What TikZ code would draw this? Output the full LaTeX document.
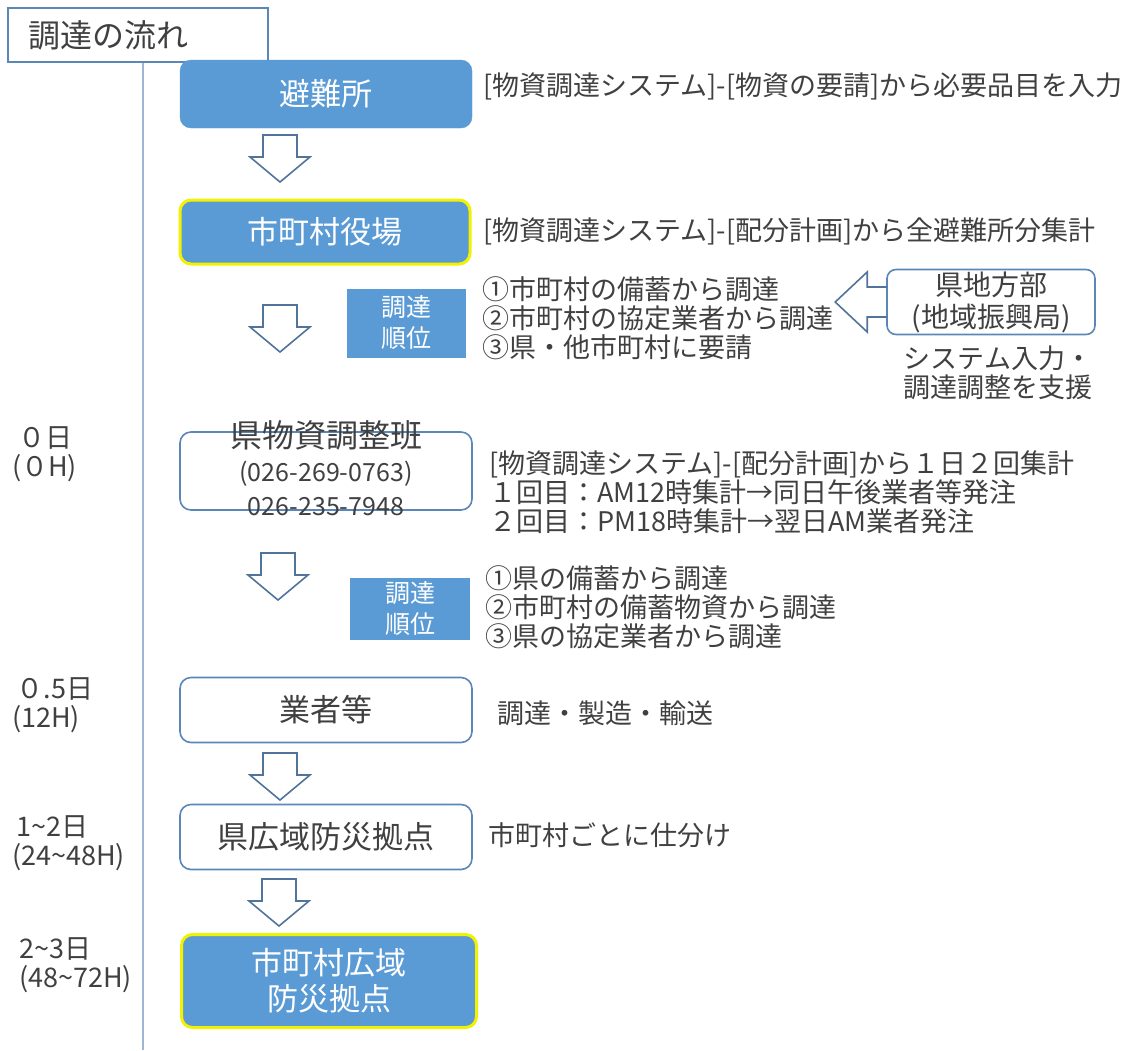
\documentclass[tikz,border=0pt]{standalone}
\usepackage{fontspec}
\setmainfont{Noto Sans CJK JP}
\usetikzlibrary{calc,positioning}
\definecolor{boxblue}{HTML}{5B9BD5}
\definecolor{edgeblue}{HTML}{5A86B8}
\definecolor{arrowgray}{HTML}{52739A}
\definecolor{inkgray}{HTML}{404040}
\definecolor{hiyellow}{HTML}{F2F200}
\definecolor{railblue}{HTML}{9DB6D3}
\tikzset{
  flowbox/.style={rounded corners=11pt, minimum width=292pt, minimum height=66pt,
    inner sep=0pt, align=center, font=\fontsize{31}{36}\selectfont},
  bluebox/.style={flowbox, fill=boxblue, draw=boxblue, text=white},
  keybox/.style={bluebox, draw=hiyellow, line width=3pt},
  whitebox/.style={flowbox, fill=white, draw=edgeblue, line width=1.6pt, text=inkgray},
  rankbox/.style={fill=boxblue, text=white, minimum width=119pt, minimum height=66pt,
    inner sep=0pt, align=center, font=\fontsize{25}{31}\selectfont},
  sidetext/.style={anchor=west, align=left, text=inkgray, inner sep=0pt,
    font=\fontsize{27}{29}\selectfont},
  timetext/.style={anchor=west, align=left, text=inkgray, inner sep=0pt,
    font=\fontsize{27}{29}\selectfont},
  blockline/.style={draw=arrowgray, line width=1.6pt, line join=miter},
  downarrow/.pic={\draw[blockline] (-17,0) -- (17,0) -- (17,22) -- (30,22)
    -- (0,47) -- (-30,22) -- (-17,22) -- cycle;}
}
\begin{document}
\begin{tikzpicture}[x=1pt,y=-1pt]
  \useasboundingbox (0,0) rectangle (1132,1050);

  % title and time rail
  \node[draw=edgeblue, line width=1.6pt, fill=white, minimum width=260pt,
    minimum height=54pt, text width=220pt, align=left, inner xsep=20pt,
    text=inkgray, font=\fontsize{32}{36}\selectfont] (title) at (138,35) {調達の流れ};
  \coordinate (railend) at (143,1050);
  \draw[railblue, line width=1.4pt] (title.south -| railend) -- (railend);

  % flow boxes
  \node[bluebox, minimum height=68pt] (shelter) at (326,94) {避難所};
  \node[keybox, minimum width=290pt, minimum height=64pt] (cityhall) at (325,232) {市町村役場};
  \node[rankbox, minimum height=69pt] (rank1) at (406,323) {調達\\順位};
  \node[whitebox, minimum height=78pt] (prefteam) at (326,471) {};
  \node[text=inkgray, align=center, inner sep=0pt, font=\fontsize{25}{34}\selectfont]
    (prefteamtext) at ([yshift=3pt]prefteam.center)
    {{\fontsize{32}{34}\selectfont 県物資調整班}\\(026-269-0763)\\026-235-7948};
  \node[rankbox, minimum width=120pt, minimum height=62pt] (rank2) at (410,609) {調達\\順位};
  \node[whitebox, minimum height=65pt] (vendor) at (326,710) {業者等};
  \node[whitebox, minimum height=65pt] (prefbase) at (326,837) {県広域防災拠点};
  \node[keybox, minimum width=295pt, minimum height=93pt] (citybase) at (329,981)
    {市町村広域\\防災拠点};
  \node[whitebox, rounded corners=9pt, minimum width=208pt, minimum height=65pt,
    font=\fontsize{28}{32}\selectfont] (chiho) at (991,302) {県地方部\\(地域振興局)};

  % down arrows
  \pic at (280,135) {downarrow};
  \pic at (280,305) {downarrow};
  \pic at (278,553) {downarrow};
  \pic at (280,753) {downarrow};
  \pic at (279,879) {downarrow};

  % support arrow
  \draw[blockline] ($(chiho.west)+(1,-15)$) -- ++(-20,0) -- ++(0,-15)
    -- ++(-32,30) -- ++(32,30) -- ++(0,-15) -- ++(20,0);

  % notes
  \node[sidetext] (note1) at (483,86) {[物資調達システム]-[物資の要請]から必要品目を入力};
  \node[sidetext] (note2) at (483,231) {[物資調達システム]-[配分計画]から全避難所分集計};
  \node[sidetext] (list1) at (482,318)
    {①市町村の備蓄から調達\\②市町村の協定業者から調達\\③県・他市町村に要請};
  \node[sidetext, anchor=center, align=center] (support) at (998,373)
    {システム入力・\\調達調整を支援};
  \node[sidetext] (note3) at (489,492)
    {[物資調達システム]-[配分計画]から１日２回集計\\
     １回目：AM12時集計→同日午後業者等発注\\
     ２回目：PM18時集計→翌日AM業者発注};
  \node[sidetext] (list2) at (485,607)
    {①県の備蓄から調達\\②市町村の備蓄物資から調達\\③県の協定業者から調達};
  \node[sidetext] (note4) at (497,713) {調達・製造・輸送};
  \node[sidetext] (note5) at (488,835) {市町村ごとに仕分け};

  % time labels
  \node[timetext] (time0) at (12,454) {\ ０日\\(０H)};
  \node[timetext] (time1) at (12,705) {\,０.5日\\(12H)};
  \node[timetext] (time2) at (12,843) {\,1\textasciitilde 2日\\(24\textasciitilde 48H)};
  \node[timetext] (time3) at (19,965) {2\textasciitilde 3日\\(48\textasciitilde 72H)};
\end{tikzpicture}
\end{document}
